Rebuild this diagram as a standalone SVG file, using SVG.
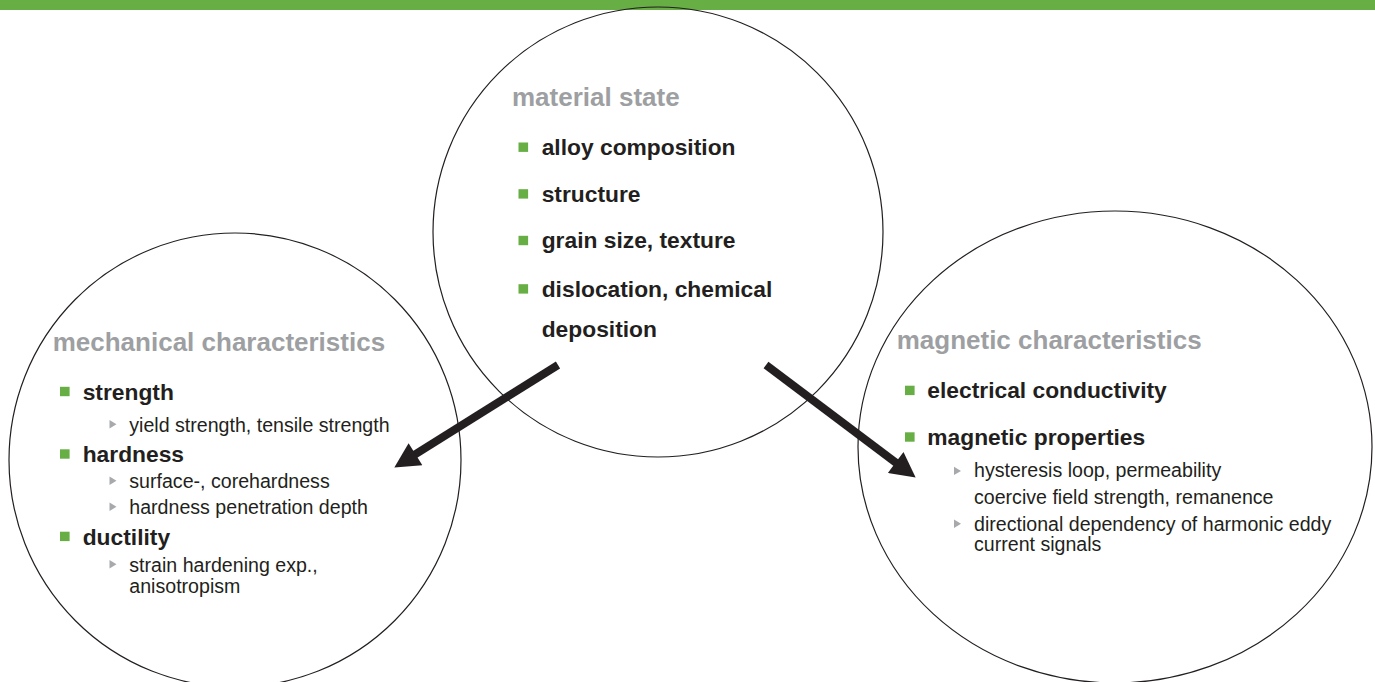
<svg xmlns="http://www.w3.org/2000/svg" xmlns:xlink="http://www.w3.org/1999/xlink" width="1375" height="682" viewBox="0 0 1375 682">
<style>
.circ{fill:none;stroke:#231f20;stroke-width:1.2}
.title{font-family:"Liberation Sans",Arial,sans-serif;font-weight:bold;font-size:26px;fill:#9d9fa2}
.item{font-family:"Liberation Sans",Arial,sans-serif;font-weight:bold;font-size:22.8px;fill:#231f20}
.sub{font-family:"Liberation Sans",Arial,sans-serif;font-size:19.6px;fill:#231f20}
.sq{fill:#67ae45}
.tri{fill:#a7a9ac}
.arrow{stroke:#231f20;stroke-width:8;fill:none}
</style>
<defs>
<rect id="sq" class="sq" x="0" y="0" width="9.6" height="9.4"/>
<polygon id="tri" class="tri" points="0,0 7,4.2 0,8.4"/>
<marker id="head" markerUnits="userSpaceOnUse" markerWidth="26" markerHeight="26" viewBox="0 0 24 25" refX="4" refY="12.5" orient="auto">
<path d="M0,0 L24,12.5 L0,25 Z" fill="#231f20"/>
</marker>
</defs>
<rect x="0" y="0" width="1375" height="10" fill="#67ae45"/>

<g id="material-state">
<circle class="circ" cx="658" cy="232" r="225"/>
<text class="title" x="512" y="105.5">material state</text>
<use xlink:href="#sq" x="518.5" y="142.5"/>
<text class="item" x="541.7" y="155">alloy composition</text>
<use xlink:href="#sq" x="518.5" y="189.2"/>
<text class="item" x="541.7" y="201.7">structure</text>
<use xlink:href="#sq" x="518.5" y="235.8"/>
<text class="item" x="541.7" y="248.3">grain size, texture</text>
<use xlink:href="#sq" x="518.5" y="284.2"/>
<text class="item" x="541.7" y="296.7">dislocation, chemical</text>
<text class="item" x="541.7" y="337.3">deposition</text>
</g>

<g id="mechanical-characteristics">
<ellipse class="circ" cx="235" cy="460" rx="226" ry="227"/>
<text class="title" x="52.7" y="350.7">mechanical characteristics</text>
<use xlink:href="#sq" x="60" y="386.8"/>
<text class="item" x="82.7" y="400">strength</text>
<use xlink:href="#tri" x="109.5" y="420"/>
<text class="sub" x="129.3" y="431.7">yield strength, tensile strength</text>
<use xlink:href="#sq" x="60" y="449.3"/>
<text class="item" x="82.7" y="461.7">hardness</text>
<use xlink:href="#tri" x="109.5" y="476.6"/>
<text class="sub" x="129.3" y="488.3">surface-, corehardness</text>
<use xlink:href="#tri" x="109.5" y="502.6"/>
<text class="sub" x="129.3" y="514.3">hardness penetration depth</text>
<use xlink:href="#sq" x="60" y="531.7"/>
<text class="item" x="82.7" y="545">ductility</text>
<use xlink:href="#tri" x="109.5" y="560"/>
<text class="sub" x="129.3" y="571.7">strain hardening exp.,</text>
<text class="sub" x="129.3" y="593.3">anisotropism</text>
</g>

<g id="magnetic-characteristics">
<ellipse class="circ" cx="1115" cy="447" rx="257" ry="236"/>
<text class="title" x="896.7" y="349.3">magnetic characteristics</text>
<use xlink:href="#sq" x="905" y="385.7"/>
<text class="item" x="927.3" y="398.3">electrical conductivity</text>
<use xlink:href="#sq" x="905" y="432.3"/>
<text class="item" x="927.3" y="445">magnetic properties</text>
<use xlink:href="#tri" x="954" y="466.7"/>
<text class="sub" x="974" y="477.3">hysteresis loop, permeability</text>
<text class="sub" x="974" y="504">coercive field strength, remanence</text>
<use xlink:href="#tri" x="954" y="519.5"/>
<text class="sub" x="974" y="530.7">directional dependency of harmonic eddy</text>
<text class="sub" x="974" y="550.7">current signals</text>
</g>

<g id="connectors">
<line class="arrow" x1="558" y1="365" x2="411.95" y2="456.4" marker-end="url(#head)"/>
<line class="arrow" x1="766" y1="365" x2="899" y2="465" marker-end="url(#head)"/>
</g>
</svg>
